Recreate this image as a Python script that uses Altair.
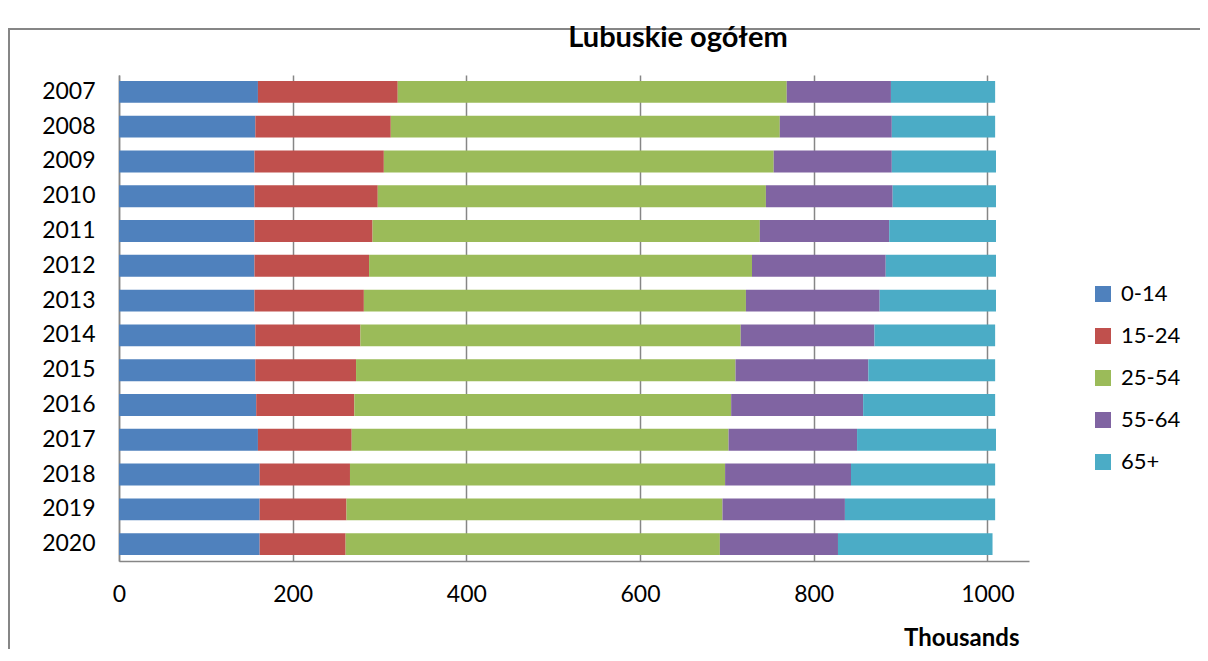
import altair as alt
import pandas as pd

years = ["2007", "2008", "2009", "2010", "2011", "2012", "2013",
         "2014", "2015", "2016", "2017", "2018", "2019", "2020"]
groups = ["0-14", "15-24", "25-54", "55-64", "65+"]
colors = ["#4F81BD", "#C0504D", "#9BBB59", "#8064A2", "#4BACC6"]

v_0_14 = [160, 157, 156, 156, 156, 156, 156, 157, 157, 158, 160, 162, 162, 162]
v_15_24 = [161, 156, 149, 142, 136, 132, 126, 121, 116, 113, 108, 104, 100, 99]
v_25_54 = [448, 448, 449, 447, 446, 441, 440, 438, 437, 434, 434, 432, 433, 431]
v_55_64 = [120, 129, 136, 146, 149, 154, 154, 154, 153, 152, 148, 145, 141, 136]
v_65 = [120, 119, 120, 119, 123, 127, 134, 139, 146, 152, 160, 166, 173, 178]

series = [v_0_14, v_15_24, v_25_54, v_55_64, v_65]
rows = []
for gi, (g, vals) in enumerate(zip(groups, series)):
    for y, v in zip(years, vals):
        rows.append({"year": y, "group": g, "value": v, "order": gi})
df = pd.DataFrame(rows)

FONT = "Lato"
GRAY = "#868686"

bars = alt.Chart(df).mark_bar().encode(
    y=alt.Y("year:N", sort=years,
            scale=alt.Scale(paddingInner=0.37, paddingOuter=0.17),
            axis=alt.Axis(title=None, ticks=False, grid=False, labelPadding=24,
                          labelFontSize=23, labelFont=FONT, labelColor="black",
                          domainColor=GRAY, domainWidth=1.5)),
    x=alt.X("sum(value):Q",
            scale=alt.Scale(domain=[0, 1048], nice=False, zero=True),
            axis=alt.Axis(title="Thousands", values=[0, 200, 400, 600, 800, 1000],
                          format="d",
                          ticks=False, grid=True, gridColor=GRAY, gridWidth=1.5,
                          domainColor=GRAY, domainWidth=1.5,
                          labelFontSize=23, labelFont=FONT, labelColor="black",
                          labelPadding=22, labelFlush=False,
                          titleFont=FONT, titleFontSize=24, titleFontWeight="bold",
                          titleColor="black", titleAlign="right", titleBaseline="alphabetic",
                          titleX=900, titleY=84)),
    color=alt.Color("group:N",
                    scale=alt.Scale(domain=groups, range=colors),
                    legend=alt.Legend(title=None, orient="none", legendX=973, legendY=208,
                                      symbolType="square", symbolSize=256,
                                      symbolStrokeWidth=0, labelFontSize=22,
                                      labelFont=FONT, labelColor="black",
                                      rowPadding=20, labelOffset=7, padding=0)),
    order=alt.Order("order:Q"),
)

frame = alt.Chart(pd.DataFrame({"a": [0]})).mark_rect(
    fill=None, stroke=GRAY, strokeWidth=2
).encode(
    x=alt.value(-110), x2=alt.value(1110),
    y=alt.value(-46), y2=alt.value(640),
)

chart = alt.layer(frame, bars).properties(
    width=910, height=486,
    title=alt.Title("Lubuskie ogółem", font=FONT, fontSize=29, fontWeight="bold",
                    color="black", anchor="middle", dx=104, offset=0, dy=48,
                    baseline="alphabetic"),
    autosize=alt.AutoSizeParams(type="none"),
    padding={"left": 111, "top": 67, "right": 171, "bottom": 88},
).configure_view(stroke=None)

chart.save("out.html", embed_options={"renderer": "svg", "actions": False})
